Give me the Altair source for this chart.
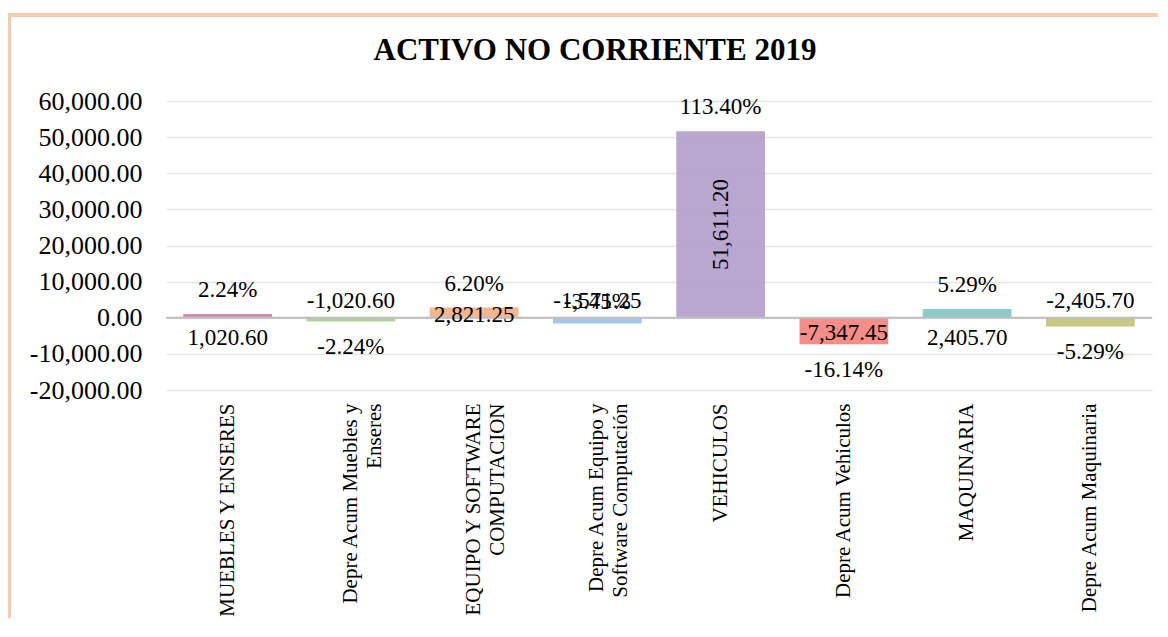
import altair as alt
import pandas as pd

# ---- data ----
titulo = "ACTIVO NO CORRIENTE 2019"
categorias = [
    "MUEBLES Y ENSERES",
    "Depre Acum Muebles y Enseres",
    "EQUIPO Y SOFTWARE COMPUTACION",
    "Depre Acum Equipo y Software Computación",
    "VEHICULOS",
    "Depre Acum Vehiculos",
    "MAQUINARIA",
    "Depre Acum Maquinaria",
]
etiquetas_eje = [
    "MUEBLES Y ENSERES",
    "Depre Acum Muebles y|Enseres",
    "EQUIPO Y SOFTWARE|COMPUTACION",
    "Depre Acum Equipo y|Software Computación",
    "VEHICULOS",
    "Depre Acum Vehiculos",
    "MAQUINARIA",
    "Depre Acum Maquinaria",
]
valores = [1020.60, -1020.60, 2821.25, -1571.25, 51611.20, -7347.45, 2405.70, -2405.70]
porcentajes = [0.0224, -0.0224, 0.0620, -0.0345, 1.1340, -0.1614, 0.0529, -0.0529]
colores = ["#cf83a6", "#a9d08e", "#f4b183", "#9dc3e6", "#b3a0cb", "#f4837f", "#80c8c8", "#c4c27a"]
ticks_y = [-20000, -10000, 0, 10000, 20000, 30000, 40000, 50000, 60000]

df = pd.DataFrame({
    "categoria": categorias,
    "eje": etiquetas_eje,
    "valor": valores,
    "pct": porcentajes,
})

FONT = "Liberation Serif"
MINUS = "\u2212"

x_scale = alt.Scale(domain=etiquetas_eje, paddingInner=0.28, paddingOuter=0.14)
x_axis = alt.Axis(
    title=None, labelAngle=-90, labelAlign="right", labelBaseline="middle",
    labelFontSize=21, labelLineHeight=24, labelFont=FONT, labelColor="#000000",
    domain=False, ticks=False, labelPadding=13, labelLimit=500, grid=False,
    labelExpr="split(datum.label, '|')",
)
y_scale = alt.Scale(domain=[-20000, 60000], nice=False, zero=False)
y_axis = alt.Axis(
    title=None, values=ticks_y, grid=True, gridColor="#e4e4e4",
    gridWidth=1.5, domain=False, ticks=False, tickSize=0, labelPadding=24,
    labelFontSize=26, labelFont=FONT, labelColor="#000000", labelOverlap=False,
    labelExpr=f"replace(format(datum.value, ',.2f'), '{MINUS}', '-')",
)


def X():
    return alt.X("eje:N", scale=x_scale, axis=x_axis, sort=etiquetas_eje)


def Y(campo):
    return alt.Y(campo, scale=y_scale, axis=y_axis)


base = alt.Chart(df).transform_calculate(
    cero="0",
    mitad="datum.valor / 2",
    txt_valor=f"replace(format(datum.valor, ',.2f'), '{MINUS}', '-')",
    txt_pct=f"replace(format(datum.pct, '.2%'), '{MINUS}', '-')",
)

borde = alt.Chart(pd.DataFrame({"k": [0]})).mark_rect(
    filled=False, stroke="#f8cbad", strokeWidth=4
).encode(
    x=alt.value(-157), x2=alt.value(1020), y=alt.value(-86), y2=alt.value(560)
)

encabezado = alt.Chart(pd.DataFrame({"t": [titulo]})).mark_text(
    font=FONT, fontSize=31, fontWeight="bold", color="#000000", baseline="middle", align="center"
).encode(
    text="t:N", x=alt.value(429), y=alt.value(-50)
)

barras = base.mark_bar(opacity=0.92).encode(
    x=X(),
    y=Y("valor:Q"),
    color=alt.Color("eje:N", scale=alt.Scale(domain=etiquetas_eje, range=colores), legend=None),
)

cero = base.mark_rule(color="#bfbfbf", strokeWidth=2).encode(
    y=Y("cero:Q")
).transform_filter(alt.FieldEqualPredicate(field="eje", equal=etiquetas_eje[0]))


def txt(**kw):
    return base.mark_text(font=FONT, fontSize=23, color="#000000", baseline="middle", **kw)


def one_of(items):
    return alt.FieldOneOfPredicate(field="eje", oneOf=items)


pct_pos = txt(dy=-24).encode(
    x=X(), y=Y("valor:Q"), text="txt_pct:N",
).transform_filter("datum.valor > 0")

pct_neg = txt(dy=26).encode(
    x=X(), y=Y("valor:Q"), text="txt_pct:N",
).transform_filter(one_of([etiquetas_eje[1], etiquetas_eje[5], etiquetas_eje[7]]))

pct_equipo = txt(dy=-16).encode(
    x=X(), y=Y("cero:Q"), text="txt_pct:N",
).transform_filter(one_of([etiquetas_eje[3]]))

val_bajo = txt(dy=20).encode(
    x=X(), y=Y("cero:Q"), text="txt_valor:N",
).transform_filter(one_of([etiquetas_eje[0], etiquetas_eje[6]]))

val_sobre = txt(dy=-17).encode(
    x=X(), y=Y("cero:Q"), text="txt_valor:N",
).transform_filter(one_of([etiquetas_eje[1], etiquetas_eje[3], etiquetas_eje[7]]))

val_equipo = txt(dy=-3).encode(
    x=X(), y=Y("cero:Q"), text="txt_valor:N",
).transform_filter(one_of([etiquetas_eje[2]]))

val_vehiculos = txt(angle=270).encode(
    x=X(), y=Y("mitad:Q"), text="txt_valor:N",
).transform_filter(one_of([etiquetas_eje[4]]))

val_depre_veh = txt(dy=2).encode(
    x=X(), y=Y("mitad:Q"), text="txt_valor:N",
).transform_filter(one_of([etiquetas_eje[5]]))

chart = alt.layer(
    barras, cero, pct_pos, pct_neg, pct_equipo,
    val_bajo, val_sobre, val_equipo, val_vehiculos, val_depre_veh, borde, encabezado,
).properties(
    width=986,
    height=289,
    background="#ffffff",
    autosize=alt.AutoSizeParams(type="none"),
    padding={"left": 158, "top": 93, "right": 6, "bottom": 228},
).configure_view(strokeWidth=0, stroke="transparent")

chart.save("out.html", embed_options={"renderer": "svg", "actions": False})
